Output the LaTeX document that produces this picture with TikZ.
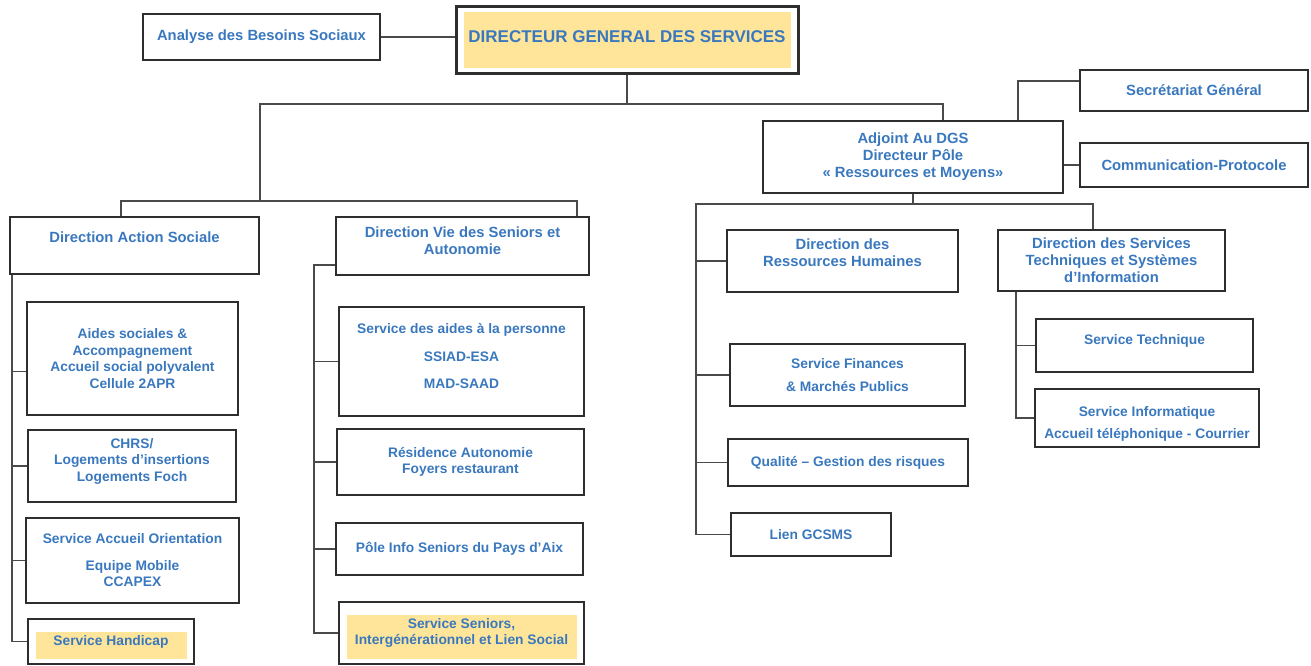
\documentclass[tikz,border=0pt]{standalone}
\usepackage{fontspec}
\setmainfont{Liberation Sans}
\definecolor{boxline}{HTML}{2E2E2E}
\definecolor{linegray}{HTML}{4A4A4A}
\definecolor{txtblue}{HTML}{3A78BE}
\definecolor{hlyellow}{HTML}{FFE599}
\tikzset{
  unit/.style={draw=boxline, line width=2pt, text=txtblue, align=center, inner sep=2pt,
    font=\bfseries\fontsize{13.8}{16.5}\selectfont},
  head/.style={unit, font=\bfseries\fontsize{14.8}{17}\selectfont},
  link/.style={draw=linegray, line width=1.2pt},
  hl/.style={path picture={\fill[hlyellow] ([shift={(8pt,-#1)}]path picture bounding box.north west)
    rectangle ([shift={(-7pt,5pt)}]path picture bounding box.south east);}},
  hl/.default=13pt
}
\begin{document}
\begin{tikzpicture}[x=1pt,y=-1pt]
\useasboundingbox (0,0) rectangle (1311,665);
\node[head, minimum width=237, minimum height=46] (abs) at (261.5,37) {Analyse des Besoins Sociaux};
\node[unit, line width=3pt, hl=6pt, text depth=6pt, minimum width=342, minimum height=67, font=\bfseries\fontsize{17}{20}\selectfont] (dgs) at (627,39.5) {DIRECTEUR GENERAL DES SERVICES};
\node[head, minimum width=300, minimum height=72] (adj) at (913,157) {Adjoint Au DGS\\Directeur Pôle\\« Ressources et Moyens»};
\node[head, minimum width=228, minimum height=41] (sec) at (1194,90.5) {Secrétariat Général};
\node[head, minimum width=228, minimum height=44] (com) at (1194,165) {Communication-Protocole};
\node[head, text depth=17pt, minimum width=249, minimum height=57] (das) at (134.5,245.5) {Direction Action Sociale};
\node[head, text depth=10pt, minimum width=253, minimum height=58] (dvs) at (462.5,246) {Direction Vie des Seniors et\\Autonomie};
\node[head, text depth=16pt, minimum width=231, minimum height=62] (drh) at (842.5,261) {Direction des\\Ressources Humaines};
\node[head, minimum width=227, minimum height=61] (dst) at (1111.5,260.5) {Direction des Services\\Techniques et Systèmes\\d’Information};
\node[unit, text depth=12pt, minimum width=217, minimum height=53] (tec) at (1144.5,345.5) {Service Technique};
\node[unit, text height=43pt, minimum width=224, minimum height=58] (inf) at (1147,418) {Service Informatique\\[5pt]Accueil téléphonique - Courrier};
\node[unit, minimum width=235, minimum height=62] (fin) at (847.5,375) {Service Finances\\[6pt]\& Marchés Publics};
\node[unit, minimum width=240, minimum height=47] (qua) at (848,462.5) {Qualité – Gestion des risques};
\node[unit, minimum width=160, minimum height=43] (gcs) at (811,534.5) {Lien GCSMS};
\node[unit, minimum width=211, minimum height=113] (aid) at (132.5,358.5) {Aides sociales \&\\Accompagnement\\Accueil social polyvalent\\Cellule 2APR};
\node[unit, text depth=13pt, minimum width=208, minimum height=72] (chr) at (132,466) {CHRS/\\Logements d’insertions\\Logements Foch};
\node[unit, minimum width=213, minimum height=85] (sao) at (132.5,560.5) {Service Accueil Orientation\\[10pt]Equipe Mobile\\CCAPEX};
\node[unit, hl, minimum width=166, minimum height=45] (han) at (111,641.5) {Service Handicap};
\node[unit, text depth=11pt, minimum width=245, minimum height=109] (spa) at (461.5,361.5) {Service des aides à la personne\\[11pt]SSIAD-ESA\\[11pt]MAD-SAAD};
\node[unit, minimum width=247, minimum height=66] (res) at (460.5,462) {Résidence Autonomie\\Foyers restaurant};
\node[unit, minimum width=247, minimum height=52] (pis) at (459.5,549) {Pôle Info Seniors du Pays d’Aix};
\node[unit, hl, minimum width=245, minimum height=62] (ssl) at (461.5,633) {Service Seniors,\\Intergénérationnel et Lien Social};
\coordinate (j1) at (260,104);
\coordinate (j2) at (943,104);
\coordinate (j3) at (260,201);
\coordinate (j4) at (121,201);
\coordinate (j5) at (577,201);
\coordinate (j6) at (1018,81);
\coordinate (j7) at (696,204);
\coordinate (j8) at (1093,204);
\coordinate (j9) at (1016,0);
\coordinate (xl) at (12,0);
\coordinate (xm) at (314,0);
\draw[link] (abs.east) -- (abs.east -| dgs.west);
\draw[link] (dgs.south) -- (dgs.south |- j1);
\draw[link] (j3) -- (j1) -- (j2) -- (j2 |- adj.north);
\draw[link] (j4 |- das.north) -- (j4) -- (j5) -- (j5 |- dvs.north);
\draw[link] (j6 -| sec.west) -- (j6) -- (j6 |- adj.north);
\draw[link] (com.west) -- (com.west -| adj.east);
\draw[link] (adj.south) -- (adj.south |- j7);
\draw[link] (j7 |- gcs.west) -- (j7) -- (j8) -- (j8 |- dst.north);
\draw[link] (j7 |- drh.west) -- (drh.west);
\draw[link] (j7 |- fin.west) -- (fin.west);
\draw[link] (j7 |- qua.west) -- (qua.west);
\draw[link] (j7 |- gcs.west) -- (gcs.west);
\draw[link] (j9 |- dst.south) -- (j9 |- inf.west) -- (inf.west);
\draw[link] (j9 |- tec.west) -- (tec.west);
\draw[link] (xl |- das.south) -- (xl |- han.west) -- (han.west);
\draw[link] ([yshift=-13pt]aid.west) -- ++(-15,0);
\draw[link] (xl |- chr.west) -- (chr.west);
\draw[link] (xl |- sao.west) -- (sao.west);
\draw[link] ([yshift=-19pt]dvs.west) -| (xm |- ssl.west) -- (ssl.west);
\draw[link] (xm |- spa.west) -- (spa.west);
\draw[link] (xm |- res.west) -- (res.west);
\draw[link] (xm |- pis.west) -- (pis.west);
\end{tikzpicture}
\end{document}
